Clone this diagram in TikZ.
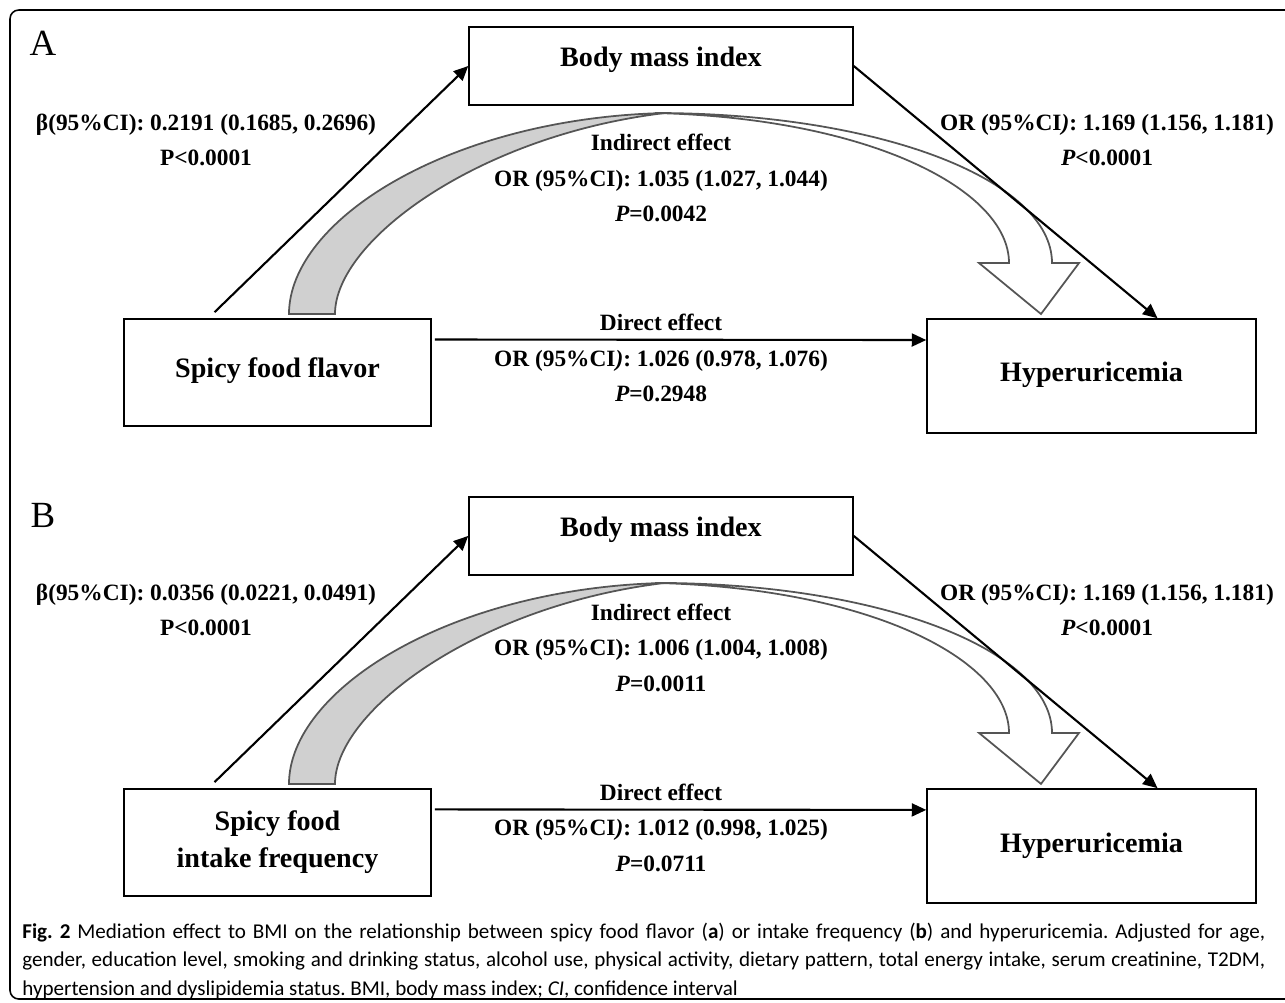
\documentclass[tikz,border=0pt]{standalone}
\usepackage{fontspec}
\setmainfont{Liberation Serif}
\newfontfamily\captionfont{Carlito}
\usetikzlibrary{arrows.meta,positioning,calc}
\definecolor{Ribbon}{HTML}{D0D0D0}
\definecolor{RibbonEdge}{HTML}{555555}

\begin{document}
\begin{tikzpicture}[x=0.02cm,y=-0.02cm,>={Triangle[length=2.9mm,width=2.6mm]},
    box/.style={draw,line width=0.9pt,inner sep=0pt,align=center,font=\fontsize{16}{21}\selectfont\bfseries},
    lab/.style={inner sep=0pt,align=center,font=\fontsize{13.3}{20.3}\selectfont\bfseries},
    tag/.style={font=\fontsize{21}{24}\selectfont},
    conn/.style={->,line width=1.2pt},
    ribbon/.style={draw=RibbonEdge,line width=1pt}]
    \useasboundingbox (0,0) rectangle (1285,1002);
    % outer frame
    \draw[line width=0.9pt,rounded corners=5pt] (1300,10) -- (10,10) -- (10,999) -- (1300,999);

    % panel A
    \node[tag] (tagA) at (43,43) {A};
    \node[box,minimum width=7.68cm,minimum height=1.56cm] (bmiA) at (661,66) {\raisebox{0.36cm}{Body mass index}};
    \node[box,minimum width=6.14cm,minimum height=2.14cm] (spicyA) at (277.5,372.5) {\raisebox{0.18cm}{Spicy food flavor}};
    \node[box,minimum width=6.58cm,minimum height=2.28cm] (hyperA) at (1091.5,376) {\raisebox{0.16cm}{Hyperuricemia}};
    \filldraw[ribbon,fill=white] (655,113) .. controls (880,113) and (1052,180) .. (1052,263)
      -- (1079,263) -- (1041,314) -- (979,263) -- (1009,263)
      .. controls (1009,190) and (870,118) .. (655,113) -- cycle;
    \filldraw[ribbon,fill=Ribbon] (289,314) .. controls (289,220) and (450,118) .. (665,113)
      .. controls (480,135) and (335,240) .. (335,314) -- cycle;
    \draw[conn] ([shift={(-63,-6)}]spicyA.north) -- (bmiA.west);
    \draw[conn] (bmiA.east) -- ([shift={(66,0)}]hyperA.north);
    \draw[conn] ([shift={(3,-33)}]spicyA.east) -- ([shift={(0,-36)}]hyperA.west);
    \node[lab] (betaA) at (206,140) {β(95\%CI): 0.2191 (0.1685, 0.2696)\\P<0.0001};
    \node[lab] (orA) at (1107,140) {OR (95\%CI\textit{)}: 1.169 (1.156, 1.181)\\\textit{P}<0.0001};
    \node[lab] (indirectA) at (661,178) {Indirect effect\\OR (95\%CI): 1.035 (1.027, 1.044)\\\textit{P}=0.0042};
    \node[lab] (directA) at (661,358) {Direct effect\\OR (95\%CI\textit{)}: 1.026 (0.978, 1.076)\\\textit{P}=0.2948};

    % panel B
    \begin{scope}[yshift=-9.4cm]
      \node[tag] (tagB) at (43,46) {B};
      \node[box,minimum width=7.68cm,minimum height=1.56cm] (bmiB) at (661,66) {\raisebox{0.36cm}{Body mass index}};
      \node[box,minimum width=6.14cm,minimum height=2.14cm] (spicyB) at (277.5,372.5) {Spicy food\\intake frequency};
      \node[box,minimum width=6.58cm,minimum height=2.28cm] (hyperB) at (1091.5,376) {Hyperuricemia};
      \filldraw[ribbon,fill=white] (655,113) .. controls (880,113) and (1052,180) .. (1052,263)
        -- (1079,263) -- (1041,314) -- (979,263) -- (1009,263)
        .. controls (1009,190) and (870,118) .. (655,113) -- cycle;
      \filldraw[ribbon,fill=Ribbon] (289,314) .. controls (289,220) and (450,118) .. (665,113)
        .. controls (480,135) and (335,240) .. (335,314) -- cycle;
      \draw[conn] ([shift={(-63,-6)}]spicyB.north) -- (bmiB.west);
      \draw[conn] (bmiB.east) -- ([shift={(66,0)}]hyperB.north);
      \draw[conn] ([shift={(3,-33)}]spicyB.east) -- ([shift={(0,-36)}]hyperB.west);
      \node[lab] (betaB) at (206,140) {β(95\%CI): 0.0356 (0.0221, 0.0491)\\P<0.0001};
      \node[lab] (orB) at (1107,140) {OR (95\%CI\textit{)}: 1.169 (1.156, 1.181)\\\textit{P}<0.0001};
      \node[lab] (indirectB) at (661,178) {Indirect effect\\OR (95\%CI): 1.006 (1.004, 1.008)\\\textit{P}=0.0011};
      \node[lab] (directB) at (661,358) {Direct effect\\OR (95\%CI\textit{)}: 1.012 (0.998, 1.025)\\\textit{P}=0.0711};
    \end{scope}

    % caption
    \node[anchor=north west,inner sep=0pt,text width=24.86cm,align=justify,
      font=\captionfont\fontsize{12}{16}\selectfont\frenchspacing] (caption) at (22,923)
      {\textbf{Fig. 2} Mediation effect to BMI on the relationship between spicy food flavor (\textbf{a}) or intake frequency (\textbf{b}) and hyperuricemia. Adjusted for age,\linebreak
      gender, education level, smoking and drinking status, alcohol use, physical activity, dietary pattern, total energy intake, serum creatinine, T2DM,\linebreak
      hypertension and dyslipidemia status. BMI, body mass index; \textit{CI}, confidence interval};
  \end{tikzpicture}
\end{document}
